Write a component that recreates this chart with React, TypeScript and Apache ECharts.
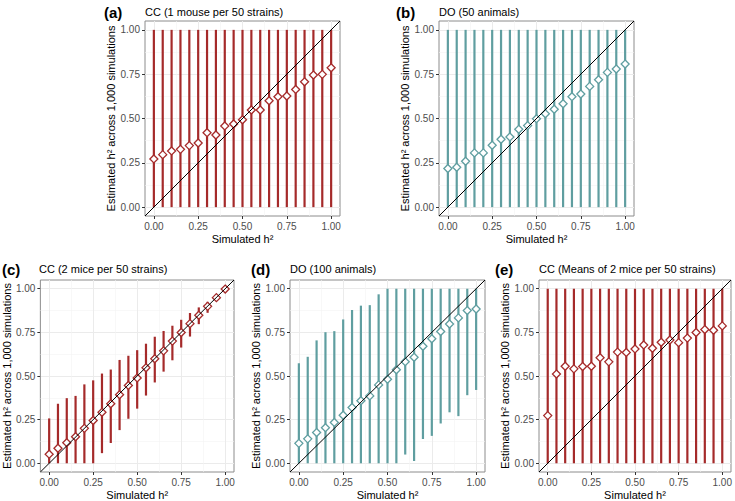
import React, { useEffect, useRef } from 'react';
import * as echarts from 'echarts';

// ---------- data ----------
const simulatedH2 = [0, 0.05, 0.1, 0.15, 0.2, 0.25, 0.3, 0.35, 0.4, 0.45, 0.5, 0.55, 0.6, 0.65, 0.7, 0.75, 0.8, 0.85, 0.9, 0.95, 1];
const tickValues = [0, 0.25, 0.5, 0.75, 1];
const minorTickValues = [0.125, 0.375, 0.625, 0.875];
const diagonalEnds = [-0.05, 1.05];

// (a) CC (1 mouse per 50 strains)
const ccOneEstimate = [0.272, 0.296, 0.317, 0.326, 0.347, 0.362, 0.42, 0.407, 0.458, 0.469, 0.493, 0.548, 0.548, 0.6, 0.623, 0.627, 0.664, 0.707, 0.745, 0.749, 0.786];
const ccOneLower = [0, 0, 0, 0, 0, 0, 0, 0, 0, 0, 0, 0, 0, 0, 0, 0, 0, 0, 0, 0, 0];
const ccOneUpper = [1, 1, 1, 1, 1, 1, 1, 1, 1, 1, 1, 1, 1, 1, 1, 1, 1, 1, 1, 1, 1];

// (b) DO (50 animals)
const doFiftyEstimate = [0.218, 0.225, 0.259, 0.306, 0.306, 0.349, 0.383, 0.396, 0.439, 0.46, 0.499, 0.527, 0.552, 0.583, 0.623, 0.638, 0.681, 0.719, 0.76, 0.779, 0.807];
const doFiftyLower = [0, 0, 0, 0, 0, 0, 0, 0, 0, 0, 0, 0, 0, 0, 0, 0, 0, 0, 0, 0, 0];
const doFiftyUpper = [1, 1, 1, 1, 1, 1, 1, 1, 1, 1, 1, 1, 1, 1, 1, 1, 1, 1, 1, 1, 1];

// (c) CC (2 mice per 50 strains)
const ccTwoEstimate = [0.052, 0.086, 0.118, 0.152, 0.2, 0.245, 0.292, 0.341, 0.393, 0.446, 0.489, 0.547, 0.599, 0.644, 0.7, 0.749, 0.8, 0.848, 0.899, 0.949, 0.998];
const ccTwoLower = [0, 0, 0, 0, 0, 0, 0.058, 0.116, 0.19, 0.255, 0.313, 0.388, 0.463, 0.525, 0.59, 0.663, 0.726, 0.797, 0.862, 0.934, 0.98];
const ccTwoUpper = [0.257, 0.341, 0.373, 0.386, 0.452, 0.475, 0.514, 0.537, 0.592, 0.616, 0.648, 0.685, 0.725, 0.758, 0.788, 0.822, 0.861, 0.893, 0.925, 0.963, 1];

// (d) DO (100 animals)
const doHundredEstimate = [0.114, 0.14, 0.176, 0.204, 0.234, 0.275, 0.32, 0.358, 0.386, 0.449, 0.481, 0.536, 0.582, 0.607, 0.67, 0.713, 0.755, 0.798, 0.833, 0.875, 0.884];
const doHundredLower = [0, 0, 0, 0, 0, 0, 0, 0, 0, 0, 0, 0, 0.05, 0.013, 0.139, 0.157, 0.228, 0.292, 0.27, 0.39, 0.42];
const doHundredUpper = [0.573, 0.61, 0.704, 0.751, 0.757, 0.824, 0.878, 0.903, 0.906, 0.968, 1, 1, 1, 1, 1, 1, 1, 1, 1, 1, 1];

// (e) CC (Means of 2 mice per 50 strains)
const ccMeansEstimate = [0.273, 0.511, 0.556, 0.541, 0.554, 0.556, 0.605, 0.581, 0.637, 0.635, 0.655, 0.678, 0.659, 0.693, 0.706, 0.691, 0.717, 0.749, 0.766, 0.762, 0.787];
const ccMeansLower = [0, 0, 0, 0, 0, 0, 0, 0, 0, 0, 0, 0, 0, 0, 0, 0, 0, 0, 0, 0, 0];
const ccMeansUpper = [1, 1, 1, 1, 1, 1, 1, 1, 1, 1, 1, 1, 1, 1, 1, 1, 1, 1, 1, 1, 1];

const panelLabels = ['(a)', '(b)', '(c)', '(d)', '(e)'];
const panelTitles = ['CC (1 mouse per 50 strains)', 'DO (50 animals)', 'CC (2 mice per 50 strains)', 'DO (100 animals)', 'CC (Means of 2 mice per 50 strains)'];
const xAxisTitle = 'Simulated h²';
const yAxisTitle = 'Estimated h² across 1,000 simulations';

// ---------- styling / layout ----------
const RED = '#a52a2a';
const TEAL = '#5f9ea0';
const FONT = '"Liberation Sans", Arial, Helvetica, sans-serif';

const panels = [
  { est: ccOneEstimate, lo: ccOneLower, hi: ccOneUpper, color: RED, left: 145, top: 21, labelX: 104, textY: 12 },
  { est: doFiftyEstimate, lo: doFiftyLower, hi: doFiftyUpper, color: TEAL, left: 439, top: 21, labelX: 396, textY: 12 },
  { est: ccTwoEstimate, lo: ccTwoLower, hi: ccTwoUpper, color: RED, left: 39, top: 280, labelX: 2, textY: 269 },
  { est: doHundredEstimate, lo: doHundredLower, hi: doHundredUpper, color: TEAL, left: 290, top: 280, labelX: 251, textY: 269 },
  { est: ccMeansEstimate, lo: ccMeansLower, hi: ccMeansUpper, color: RED, left: 539, top: 280, labelX: 495, textY: 269 },
];
const SIZE = 195;

function buildOption() {
  const grid: any[] = [];
  const xAxis: any[] = [];
  const yAxis: any[] = [];
  const series: any[] = [];
  const graphic: any[] = [];

  panels.forEach((p, i) => {
    grid.push({
      left: p.left, top: p.top, width: SIZE, height: SIZE,
      show: true, borderColor: '#8c8c8c', borderWidth: 1, backgroundColor: '#ffffff',
    });
    const common = { type: 'value', gridIndex: i, min: -0.05, max: 1.05 };
    xAxis.push({
      ...common,
      position: 'bottom',
      axisLine: { show: false, onZero: false },
      axisTick: { show: true, length: 3, lineStyle: { color: '#333333', width: 1 }, customValues: tickValues },
      axisLabel: { customValues: tickValues, formatter: (v: number) => v.toFixed(2), color: '#4d4d4d', fontSize: 10, fontFamily: FONT, margin: 5 },
      splitLine: { show: true, lineStyle: { color: '#ebebeb', width: 1 } },
      name: xAxisTitle, nameLocation: 'middle', nameGap: 17,
      nameTextStyle: { color: '#000000', fontSize: 11, fontFamily: FONT },
    });
    xAxis.push({
      ...common,
      position: 'top',
      axisLine: { show: false, onZero: false },
      axisTick: { show: false, customValues: minorTickValues },
      axisLabel: { show: false, customValues: minorTickValues },
      splitLine: { show: true, lineStyle: { color: '#f3f3f3', width: 0.6 } },
    });
    yAxis.push({
      ...common,
      position: 'left',
      axisLine: { show: false, onZero: false },
      axisTick: { show: true, length: 3, lineStyle: { color: '#333333', width: 1 }, customValues: tickValues },
      axisLabel: { customValues: tickValues, formatter: (v: number) => v.toFixed(2), color: '#4d4d4d', fontSize: 10, fontFamily: FONT, margin: 5 },
      splitLine: { show: true, lineStyle: { color: '#ebebeb', width: 1 } },
      name: yAxisTitle, nameLocation: 'middle', nameGap: 27,
      nameTextStyle: { color: '#000000', fontSize: 11, fontFamily: FONT },
    });
    yAxis.push({
      ...common,
      position: 'right',
      axisLine: { show: false, onZero: false },
      axisTick: { show: false, customValues: minorTickValues },
      axisLabel: { show: false, customValues: minorTickValues },
      splitLine: { show: true, lineStyle: { color: '#f3f3f3', width: 0.6 } },
    });

    const color = p.color;
    series.push({
      type: 'custom',
      xAxisIndex: 2 * i, yAxisIndex: 2 * i,
      data: simulatedH2.map((x, k) => [x, p.lo[k], p.hi[k]]),
      encode: { x: 0, y: [1, 2] },
      z: 2,
      renderItem: (_params: any, api: any) => {
        const a = api.coord([api.value(0), api.value(1)]);
        const b = api.coord([api.value(0), api.value(2)]);
        return {
          type: 'line',
          shape: { x1: a[0], y1: a[1], x2: b[0], y2: b[1] },
          style: { stroke: color, lineWidth: 2.2 },
        };
      },
    });
    series.push({
      type: 'scatter',
      xAxisIndex: 2 * i, yAxisIndex: 2 * i,
      data: simulatedH2.map((x, k) => [x, p.est[k]]),
      symbol: 'diamond', symbolSize: 8,
      itemStyle: { color: '#ffffff', borderColor: color, borderWidth: 1.3, opacity: 1 },
      z: 3,
    });
    series.push({
      type: 'line',
      xAxisIndex: 2 * i, yAxisIndex: 2 * i,
      data: diagonalEnds.map((v) => [v, v]),
      symbol: 'none',
      lineStyle: { color: '#000000', width: 1 },
      z: 4, silent: true,
    });

    graphic.push({
      type: 'text', x: p.labelX, y: p.textY,
      style: { text: panelLabels[i], font: `bold 15px ${FONT}`, fill: '#000000', align: 'left', verticalAlign: 'middle' },
    });
    graphic.push({
      type: 'text', x: p.left, y: p.textY,
      style: { text: panelTitles[i], font: `11px ${FONT}`, fill: '#000000', align: 'left', verticalAlign: 'middle' },
    });
  });

  return {
    animation: false,
    backgroundColor: '#ffffff',
    grid, xAxis, yAxis, series, graphic,
  };
}

export default function App() {
  const ref = useRef<HTMLDivElement>(null);
  useEffect(() => {
    if (!ref.current) return;
    const chart = echarts.init(ref.current, undefined, { renderer: 'svg' });
    chart.setOption(buildOption() as any);
    return () => chart.dispose();
  }, []);
  return (
    <div
      ref={ref}
      style={{ position: 'fixed', left: 0, top: 0, width: 735, height: 501, background: '#ffffff' }}
    />
  );
}
